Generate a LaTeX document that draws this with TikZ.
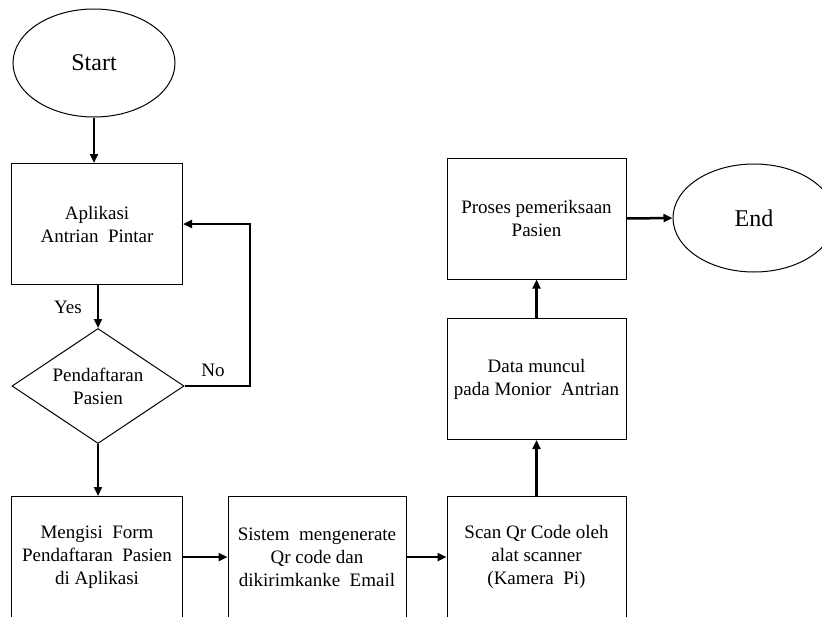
\documentclass[tikz,border=0pt]{standalone}
\usepackage{fontspec}
\setmainfont{Liberation Serif}
\usetikzlibrary{arrows.meta, shapes.geometric}

\begin{document}
\begin{tikzpicture}[
  x=1pt, y=-1pt,
  >={Triangle[length=9pt, width=8pt]},
  every node/.style={font=\fontsize{19}{23}\selectfont},
  proc/.style={draw, line width=1pt, minimum width=171pt, minimum height=121pt,
               align=center, inner sep=0pt},
  term/.style={draw, line width=1pt, ellipse, minimum width=162pt, minimum height=108pt,
               inner sep=0pt, font=\fontsize{24}{27}\selectfont},
  decision/.style={draw, line width=1pt, diamond, aspect=1.5, minimum width=172pt,
                   minimum height=115pt, align=center, inner sep=0pt},
  flow/.style={->, line width=2.5pt}
]
\useasboundingbox (0,0) rectangle (822,616);
\clip (0,0) rectangle (822,616);
% left column
\node[term] (start) at (94,63) {Start};
\node[proc] (app) at (97,224) {Aplikasi\\Antrian\ \ Pintar};
\node[decision] (daftar) at (98,386) {Pendaftaran\\Pasien};
\node[proc] (form) at (97,557) {Mengisi\ \ Form\\Pendaftaran\ \ Pasien\\di Aplikasi};
% bottom row and right column
\node[proc, minimum width=178pt] (qr) at (317,557)
  {Sistem\ \ mengenerate\\Qr code dan\\dikirimkanke\ \ Email};
\node[proc, minimum width=179pt] (scan) at (536.5,557)
  {Scan Qr Code oleh\\alat scanner\\(Kamera\ \ Pi)};
\node[proc, minimum width=179pt] (data) at (536.5,379) {Data muncul\\pada Monior\ \ Antrian};
\node[proc, minimum width=179pt] (periksa) at (536.5,218.5) {Proses pemeriksaan\\Pasien};
\node[term] (end) at (754,218) {End};
% labels
\node (yes) at (68,307) {Yes};
\node (no) at (213,370) {No};
\coordinate (loop) at (250,386);
% connectors
\draw[flow] (start.south) -- (start.south |- app.north);
\draw[flow] (app.south -| daftar.north) -- (daftar.north);
\draw[flow] (daftar.east) -- (daftar.east -| loop) |- (app.east);
\draw[flow] (daftar.south) -- (daftar.south |- form.north);
\draw[flow] (form.east) -- (qr.west);
\draw[flow] (qr.east) -- (scan.west);
\draw[flow] (scan.north) -- (data.south);
\draw[flow] (data.north) -- (periksa.south);
\draw[flow] (periksa.east) -- (end.west);
\end{tikzpicture}
\end{document}
